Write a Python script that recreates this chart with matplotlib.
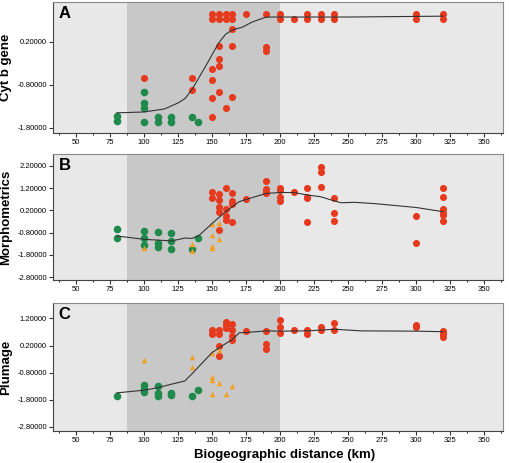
import matplotlib
matplotlib.use("Agg")
import matplotlib.pyplot as plt
from matplotlib.ticker import MultipleLocator, FormatStrFormatter

plt.rcParams['font.family'] = ['Liberation Sans', 'DejaVu Sans']

# ---- panel A: Cyt b gene ----
a_green_x = [80, 80, 100, 100, 100, 100, 110, 110, 120, 120, 135, 140]
a_green_y = [-1.52, -1.64, -0.96, -1.22, -1.33, -1.66, -1.54, -1.66, -1.54, -1.66, -1.54, -1.66]
a_red_x = [100, 135, 135, 150, 150, 150, 150, 150, 150, 155, 155, 155, 155, 155, 155,
           160, 160, 160, 165, 165, 165, 165, 165, 175, 190, 190, 190, 200, 200, 210,
           220, 220, 230, 230, 240, 240, 300, 300, 320, 320]
a_red_y = [-0.64, -0.64, -0.92, 0.85, 0.73, -0.43, -0.68, -1.10, -1.54, 0.85, 0.73, 0.11, -0.20, -0.36, -0.96,
           0.85, 0.73, -1.33, 0.85, 0.73, 0.50, 0.11, -1.07, 0.85, 0.85, 0.09, -0.01, 0.85, 0.73, 0.73,
           0.85, 0.73, 0.85, 0.73, 0.85, 0.73, 0.85, 0.73, 0.85, 0.73]
a_fit_x = [80, 100, 115, 125, 130, 135, 140, 145, 150, 155, 160, 165, 172, 180, 190, 200, 250, 320]
a_fit_y = [-1.45, -1.43, -1.36, -1.22, -1.12, -0.92, -0.65, -0.38, -0.10, 0.18, 0.38, 0.48, 0.54, 0.67, 0.78, 0.78, 0.78, 0.80]

# ---- panel B: Morphometrics ----
b_green_x = [80, 80, 100, 100, 100, 110, 110, 110, 120, 120, 120, 135, 140]
b_green_y = [-0.65, -1.03, -0.71, -1.03, -1.36, -0.79, -1.25, -1.43, -0.83, -1.16, -1.54, -1.55, -1.06]
b_tri_x = [100, 135, 135, 150, 150, 150, 150, 155, 155]
b_tri_y = [-1.48, -1.31, -1.61, -0.41, -0.91, -1.39, -1.48, -0.36, -1.09]
b_red_x = [150, 150, 155, 155, 155, 155, 155, 160, 160, 160, 160, 165, 165, 165, 165, 175,
           190, 190, 190, 190, 200, 200, 200, 200, 210, 220, 220, 220, 220, 230, 230, 230,
           240, 240, 240, 300, 300, 320, 320, 320, 320, 320, 320]
b_red_y = [1.03, 0.74, 0.93, 0.66, 0.33, 0.11, -0.68, 1.21, 0.26, -0.06, -0.24, 0.96, 0.62, 0.47, -0.31, 0.69,
           1.53, 1.14, 1.03, 0.96, 1.21, 1.11, 0.81, 0.62, 1.03, 1.21, 0.81, 0.74, -0.34, 2.16, 1.93, 1.23,
           0.74, 0.09, -0.28, -0.04, -1.28, 1.19, 0.78, 0.24, 0.09, -0.02, -0.27]
b_fit_x = [80, 100, 120, 126, 130, 135, 140, 150, 160, 170, 180, 190, 200, 210, 220, 230, 238, 245, 255, 270, 300, 320]
b_fit_y = [-0.95, -1.10, -1.17, -1.10, -1.04, -1.06, -0.95, -0.39, 0.14, 0.59, 0.78, 0.96, 1.00, 1.00, 0.89, 0.81, 0.66, 0.54, 0.56, 0.50, 0.33, 0.14]

# ---- panel C: Plumage ----
c_green_x = [80, 100, 100, 100, 110, 110, 110, 120, 120, 135, 140]
c_green_y = [-1.68, -1.27, -1.39, -1.52, -1.31, -1.55, -1.68, -1.55, -1.61, -1.68, -1.45]
c_tri_x = [100, 135, 135, 150, 150, 150, 150, 155, 155, 160, 165]
c_tri_y = [-0.34, -0.24, -0.61, -0.06, -0.96, -1.08, -1.58, 0.03, -1.18, -1.60, -1.31]
c_red_x = [150, 150, 155, 155, 155, 155, 160, 160, 160, 165, 165, 165, 165, 175,
           190, 190, 190, 200, 200, 200, 210, 220, 220, 230, 230, 240, 240, 300, 300, 320, 320, 320]
c_red_y = [0.77, 0.64, 0.79, 0.64, 0.19, -0.20, 1.08, 0.95, 0.83, 1.01, 0.79, 0.55, 0.40, 0.74,
           0.74, 0.27, 0.06, 1.14, 0.87, 0.67, 0.77, 0.77, 0.62, 0.89, 0.79, 1.04, 0.77, 0.95, 0.87, 0.74, 0.64, 0.52]
c_fit_x = [80, 100, 110, 120, 130, 135, 150, 160, 165, 170, 175, 190, 200, 220, 240, 260, 300, 320]
c_fit_y = [-1.55, -1.45, -1.36, -1.23, -1.11, -0.86, -0.06, 0.27, 0.42, 0.67, 0.68, 0.74, 0.73, 0.74, 0.80, 0.74, 0.73, 0.71]

GREEN = '#1f8a4c'
RED = '#e63a1e'
ORANGE = '#f0a024'

fig = plt.figure(figsize=(5.10, 4.63), dpi=100)
boxes = [(0.104, 0.7127, 0.882, 0.283),
         (0.104, 0.395, 0.882, 0.272),
         (0.104, 0.069, 0.882, 0.276)]

panels = [
    ('A', 'Cyt b gene', (a_green_x, a_green_y), None, (a_red_x, a_red_y), (a_fit_x, a_fit_y),
     (-1.92, 1.13), [0.2, -0.8, -1.8]),
    ('B', 'Morphometrics', (b_green_x, b_green_y), (b_tri_x, b_tri_y), (b_red_x, b_red_y), (b_fit_x, b_fit_y),
     (-2.93, 2.72), [2.2, 1.2, 0.2, -0.8, -1.8, -2.8]),
    ('C', 'Plumage', (c_green_x, c_green_y), (c_tri_x, c_tri_y), (c_red_x, c_red_y), (c_fit_x, c_fit_y),
     (-2.96, 1.76), [1.2, 0.2, -0.8, -1.8, -2.8]),
]

for box, (lab, ylab, green, tri, red, fit, ylim, yt) in zip(boxes, panels):
    ax = fig.add_axes(box)
    ax.set_facecolor('#e8e8e9')
    ax.axvspan(87.5, 200, color='#c8c8c8', zorder=0, lw=0)
    ax.scatter(red[0], red[1], s=26, color=RED, zorder=3, lw=0)
    ax.scatter(green[0], green[1], s=30, color=GREEN, zorder=3, lw=0)
    if tri is not None:
        ax.scatter(tri[0], tri[1], s=16, marker='^', color=ORANGE, zorder=4, lw=0)
    ax.plot(fit[0], fit[1], color='#333333', lw=0.8, zorder=5)
    ax.set_xlim(33, 364)
    ax.set_ylim(*ylim)
    ax.set_yticks(yt)
    ax.yaxis.set_major_formatter(FormatStrFormatter('%.5f'))
    ax.xaxis.set_minor_locator(MultipleLocator(12.5))
    ax.set_xticks([v for v in range(50, 351, 25)])
    ax.tick_params(axis='both', labelsize=5.5, length=3, width=0.8, color='#333333', pad=1.5)
    ax.tick_params(axis='x', which='minor', length=1.5, width=0.6)
    for s in ['top', 'right']:
        ax.spines[s].set_color('#8a8a8a')
    for s in ['left', 'bottom']:
        ax.spines[s].set_color('#444444')
    ax.set_ylabel(ylab, fontsize=9.5, fontweight='bold')
    ax.yaxis.set_label_coords(-0.091, 0.5)
    ax.text(0.012, 0.97, lab, transform=ax.transAxes, fontsize=12, fontweight='bold',
            va='top', ha='left')

ax.set_xlabel('Biogeographic distance (km)', fontsize=9.5, fontweight='bold')
ax.xaxis.set_label_coords(0.515, -0.14)

fig.savefig('out.png', dpi=100)
